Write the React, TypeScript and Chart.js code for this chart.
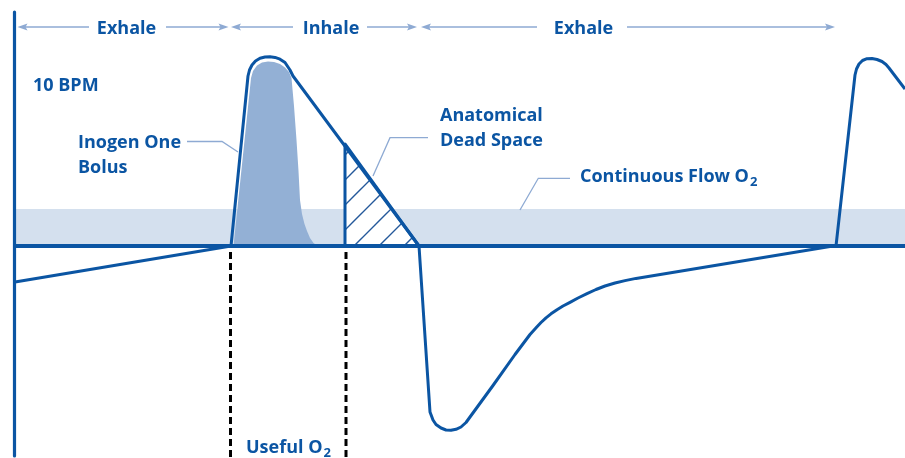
import React, { useEffect, useRef } from "react";
import { Chart, registerables } from "chart.js";

Chart.register(...registerables);

// ---- data (x: time units, y: flow units; 0 = no flow, + inhale, - exhale) ----
const flowX = [15, 231, 248, 249.5, 252, 255.5, 260, 265, 270, 275, 280, 285, 290, 293, 419, 430, 433, 436, 441, 446, 451, 456, 461, 466, 470, 493, 515, 530, 537, 541, 546, 551, 557, 563, 570, 578, 587, 596, 605, 615, 625, 636, 833, 836, 855, 856.5, 859, 862.5, 867, 872, 877, 882, 886, 889, 905];
const flowY = [-36, 0, 170, 176, 181, 185, 187.8, 189, 189.3, 188.6, 186.8, 183.5, 176, 170, 0, -166, -174, -178.5, -182, -184, -184.3, -183.3, -181, -176.5, -171, -139.5, -108.5, -88.5, -80.7, -76.5, -71.8, -67.8, -63.7, -60, -56.3, -52, -47.7, -43.5, -40, -37, -34.6, -32.4, 0, 0, 171, 177, 182, 185.5, 187.3, 187.5, 186.5, 184.5, 181.5, 178, 157];

const bolusX = [233.5, 251, 253, 257, 262, 268, 274, 280, 285, 289, 291.5, 294, 296.5, 298.5, 300, 302, 304.5, 307, 310, 313.5, 318];
const bolusY = [0, 168, 175, 180.5, 183.5, 184.5, 184, 182, 178.5, 174, 168, 140, 106, 75, 46, 32, 22, 15, 8, 3, 0];

const deadSpaceX = [345, 345, 419];
const deadSpaceY = [0, 102, 0];

const continuousX = [15, 905];
const continuousY = [37, 37];

const baselineX = [14, 905];
const baselineY = [0, 0];

const axisX = [14.5, 14.5];
const axisY = [234, -210];

const usefulStartX = [230.5, 230.5];
const usefulEndX = [346, 346];
const usefulY = [-6, -212];

// phase header
const phaseLabels = ["Exhale", "Inhale", "Exhale"];
const phaseCenters = [126.5, 331, 583.5];
const phaseArrowLeft = [[17.5, 89], [231, 293], [421, 537]];
const phaseArrowRight = [[166, 228.5], [367, 417], [627, 835]];
const phaseTextY = 212;
const phaseArrowY = 219;

// text labels: [text, subscript, x, y]
const textLabels: [string, string, number, number][] = [
  ["10 BPM", "", 33, 155],
  ["Inogen One", "", 78, 98],
  ["Bolus", "", 78, 73.3],
  ["Anatomical", "", 440, 125],
  ["Dead Space", "", 440, 100.3],
  ["Continuous Flow O", "2", 580, 63.7],
  ["Useful O", "2", 246, -207],
];

const leaders: [number, number][][] = [
  [[187, 104.5], [222, 104.5], [238, 94]],
  [[428, 108.3], [390, 108.3], [373, 70]],
  [[570, 67.7], [538.3, 67.7], [520, 36]],
];

const BLUE = "#0b55a3";
const LIGHT = "#8eaad3";
const BAND = "#d4e0ee";
const BOLUS = "#93b0d5";
const FONT = "'Open Sans', 'Noto Sans', sans-serif";
const MAIN_FONT = `bold 18px ${FONT}`;
const SUB_FONT = `bold 13px ${FONT}`;

const zip = (xs: number[], ys: number[]) => xs.map((x, i) => ({ x, y: ys[i] }));

function makeHatch(): CanvasPattern | string {
  const c = document.createElement("canvas");
  const s = 25;
  c.width = s;
  c.height = s;
  const g = c.getContext("2d");
  if (!g) return "#ffffff";
  g.fillStyle = "#ffffff";
  g.fillRect(0, 0, s, s);
  g.strokeStyle = "#24589a";
  g.lineWidth = 1.4;
  g.beginPath();
  g.moveTo(-2, s + 2);
  g.lineTo(s + 2, -2);
  g.moveTo(-2, 2);
  g.lineTo(2, -2);
  g.moveTo(s - 2, s + 2);
  g.lineTo(s + 2, s - 2);
  g.stroke();
  const p = g.createPattern(c, "repeat");
  return p || "#ffffff";
}

const overlayPlugin = {
  id: "overlay",
  afterDatasetsDraw(chart: any) {
    const { ctx, scales } = chart;
    const X = (v: number) => scales.x.getPixelForValue(v);
    const Y = (v: number) => scales.y.getPixelForValue(v);
    ctx.save();

    // header arrows
    ctx.strokeStyle = LIGHT;
    ctx.fillStyle = LIGHT;
    ctx.lineWidth = 1.5;
    const ay = Y(phaseArrowY);
    const head = (tip: number, dir: number) => {
      ctx.beginPath();
      ctx.moveTo(X(tip), ay);
      ctx.lineTo(X(tip) + dir * 10, ay - 3.5);
      ctx.lineTo(X(tip) + dir * 8, ay);
      ctx.lineTo(X(tip) + dir * 10, ay + 3.5);
      ctx.closePath();
      ctx.fill();
    };
    phaseArrowLeft.forEach(([tip, end]) => {
      ctx.beginPath();
      ctx.moveTo(X(tip) + 4, ay);
      ctx.lineTo(X(end), ay);
      ctx.stroke();
      head(tip, 1);
    });
    phaseArrowRight.forEach(([start, tip]) => {
      ctx.beginPath();
      ctx.moveTo(X(start), ay);
      ctx.lineTo(X(tip) - 4, ay);
      ctx.stroke();
      head(tip, -1);
    });

    // leaders
    ctx.lineWidth = 1.3;
    leaders.forEach((pts) => {
      ctx.beginPath();
      pts.forEach(([x, y], i) => (i ? ctx.lineTo(X(x), Y(y)) : ctx.moveTo(X(x), Y(y))));
      ctx.stroke();
    });

    // texts
    ctx.fillStyle = BLUE;
    ctx.textBaseline = "alphabetic";
    ctx.font = MAIN_FONT;
    ctx.textAlign = "center";
    phaseLabels.forEach((t, i) => ctx.fillText(t, X(phaseCenters[i]), Y(phaseTextY)));
    ctx.textAlign = "left";
    textLabels.forEach(([t, sub, x, y]) => {
      ctx.font = MAIN_FONT;
      ctx.fillText(t, X(x), Y(y));
      if (sub) {
        const w = ctx.measureText(t).width;
        ctx.font = SUB_FONT;
        ctx.fillText(sub, X(x) + w + 1, Y(y) + 4);
      }
    });
    ctx.restore();
  },
};

export default function App() {
  const ref = useRef<HTMLCanvasElement | null>(null);
  useEffect(() => {
    document.body.style.margin = "0";
    if (!ref.current) return;
    const line = (data: any[], extra: any) => ({
      data,
      pointRadius: 0,
      tension: 0,
      fill: false,
      borderColor: BLUE,
      borderWidth: 3,
      borderJoinStyle: "round",
      ...extra,
    });
    const chart = new Chart(ref.current, {
      type: "line",
      data: {
        datasets: [
          line(zip(continuousX, continuousY), { order: 10, borderWidth: 0, borderColor: "rgba(0,0,0,0)", fill: "origin", backgroundColor: BAND }),
          line(zip(bolusX, bolusY), { order: 9, borderWidth: 0, borderColor: "rgba(0,0,0,0)", fill: "origin", backgroundColor: BOLUS }),
          line(zip(deadSpaceX, deadSpaceY), { order: 8, borderWidth: 3, fill: "origin", backgroundColor: makeHatch() }),
          line(zip(usefulStartX, usefulY), { order: 7, borderColor: "#000000", borderWidth: 3, borderDash: [7, 4], borderJoinStyle: "miter" }),
          line(zip(usefulEndX, usefulY), { order: 7, borderColor: "#000000", borderWidth: 3, borderDash: [7, 4], borderJoinStyle: "miter" }),
          line(zip(flowX, flowY), { order: 5, borderWidth: 3 }),
          line(zip(baselineX, baselineY), { order: 4, borderWidth: 4 }),
          line(zip(axisX, axisY), { order: 3, borderWidth: 3.2 }),
        ],
      },
      options: {
        responsive: false,
        animation: false,
        events: [],
        layout: { padding: 0 },
        plugins: { legend: { display: false }, tooltip: { enabled: false }, title: { display: false } },
        scales: {
          x: { type: "linear", min: 0, max: 905, display: false },
          y: { type: "linear", min: -212, max: 246, display: false },
        },
      } as any,
      plugins: [overlayPlugin],
    } as any);
    return () => chart.destroy();
  }, []);
  return (
    <div style={{ width: 905, height: 458, background: "#fff" }}>
      <canvas ref={ref} width={905} height={458} style={{ display: "block" }} />
    </div>
  );
}
